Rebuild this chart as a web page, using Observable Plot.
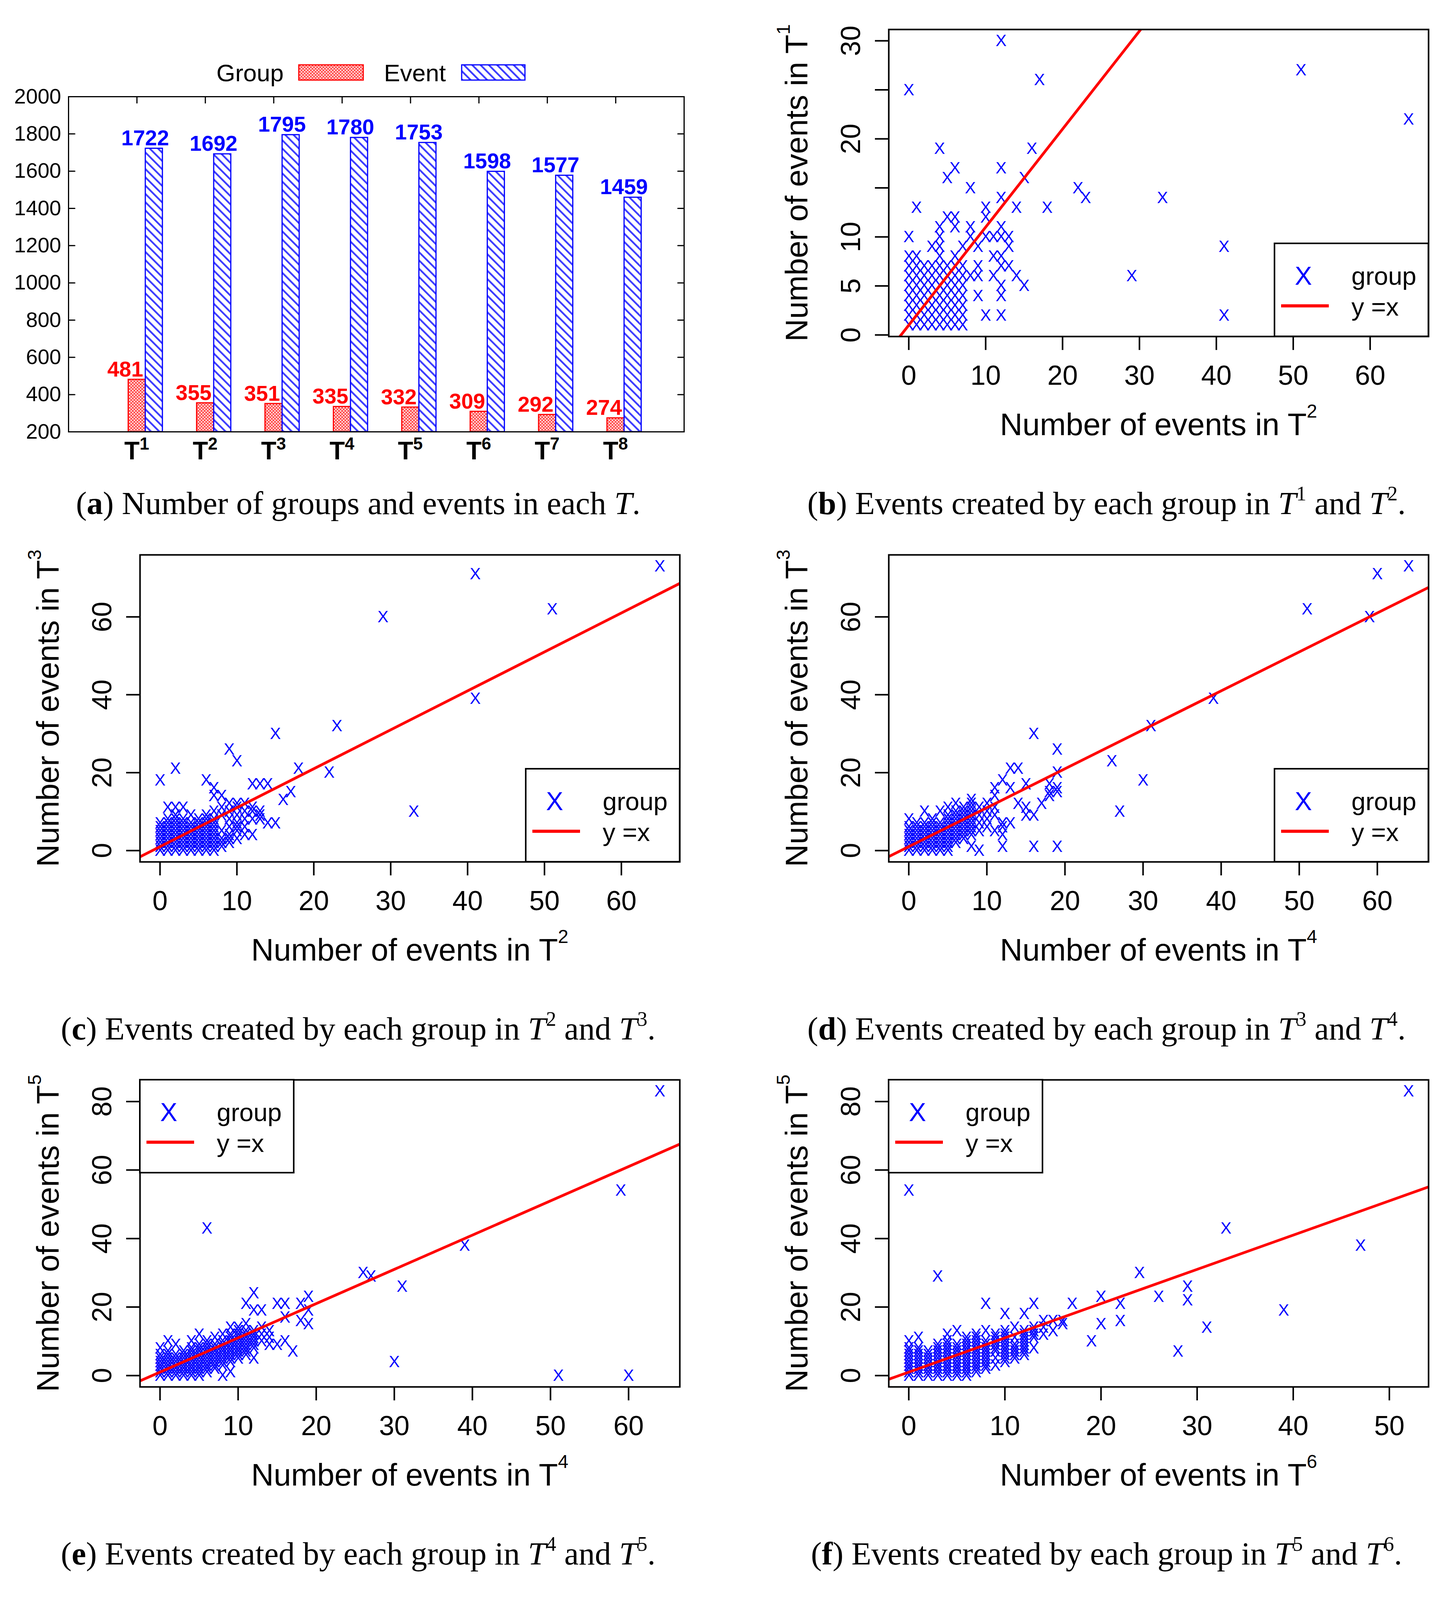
<!DOCTYPE html>
<html><head><meta charset="utf-8">
<script src="https://cdn.jsdelivr.net/npm/d3@7"></script>
<script src="https://cdn.jsdelivr.net/npm/@observablehq/plot@0.6"></script>
<style>
html,body{margin:0;padding:0;background:#fff;}
#page{position:relative;width:3697px;height:5414px;background:#fff;overflow:hidden;}
.cell{position:absolute;}
.cell svg{display:block;overflow:visible;max-width:none;}
</style></head><body>
<svg width="0" height="0" style="position:absolute">
 <defs>
  <pattern id="hatchBlue" patternUnits="userSpaceOnUse" width="15" height="15" patternTransform="rotate(-45)">
    <rect width="15" height="15" fill="#fff"/>
    <rect x="0" y="0" width="4.5" height="15" fill="#3a3aff"/>
  </pattern>
  <pattern id="hatchRed" patternUnits="userSpaceOnUse" width="8" height="8">
    <rect width="8" height="8" fill="#ffdede"/>
    <path d="M0,0L8,8M8,0L0,8" stroke="#ff2020" stroke-width="1.4"/>
  </pattern>
 </defs>
</svg>
<div id="page"></div>
<script>
// ---------- data: panel (a) ----------
const periods = ["1","2","3","4","5","6","7","8"];
const groupCounts = [481,355,351,335,332,309,292,274];
const eventCounts = [1722,1692,1795,1780,1753,1598,1577,1459];
const yTicksA = [200,400,600,800,1000,1200,1400,1600,1800,2000];

// ---------- data: scatter panels (x, y) ----------
const outliersB = [[12,30],[0,25],[17,26],[51,27],[65,22],[4,19],[16,19],[6,17],[5,16],[12,17],[15,16],[8,15],[22,15],[23,14],[33,14],[1,13],[12,14],[14,13],[18,13],[10,13],[10,12],[5,12],[6,12],[6,11],[12,11],[4,11],[8,11],[8,10],[0,10],[4,10],[10,10],[11,10],[12,10],[13,10],[13,9],[3,9],[4,9],[9,9],[7,9],[41,9],[29,6],[11,8],[12,8],[9,7],[12,7],[13,7],[11,6],[14,6],[9,6],[8,6],[15,5],[12,5],[9,4],[12,4],[10,2],[12,2],[41,2]];
const clusterB = [[0,[1,2,3,4,5,6,7,8]],[1,[1,2,3,4,5,6,7,8]],[2,[1,2,3,4,5,6,7]],[3,[1,2,3,4,5,6,7]],[4,[1,2,3,4,5,6,7,8]],[5,[1,2,3,4,5,6,7]],[6,[1,2,3,4,5,6,7,8]],[7,[1,2,3,4,5,6,7]]];

const outliersC = [[65,73],[41,71],[29,60],[51,62],[41,39],[23,32],[15,30],[9,26],[10,23],[2,21],[0,18],[18,21],[22,20],[33,10],[6,18],[7,16],[7,14],[8,14],[12,17],[13,17],[14,17],[17,15],[16,13],[14,7],[15,7],[9,12],[10,12],[11,12],[10,11],[11,10],[12,10],[12,11],[13,10],[13,9],[12,8],[13,8],[11,4],[12,4],[8,2],[9,2],[9,3],[10,6],[11,6],[1,11],[2,11],[3,11]];
const clusterC = [[0,[0,1,2,3,4,5,6,7]],[1,[0,1,2,3,4,5,6,7,8]],[2,[0,1,2,3,4,5,6,7,8,9]],[3,[0,1,2,3,4,5,6,7,8]],[4,[0,1,2,3,4,5,6,7,9]],[5,[0,1,2,3,4,5,6,7,8]],[6,[0,1,2,3,4,5,6,7,8,9]],[7,[0,1,2,3,4,5,6,7,8,10]],[8,[1,3,5,9,11]],[9,[4,6,8,10]],[10,[3,5,7,9]],[11,[8]]];

const outliersD = [[64,73],[60,71],[51,62],[59,60],[39,39],[31,32],[16,30],[19,26],[26,23],[30,18],[27,10],[13,21],[14,21],[19,20],[12,18],[13,16],[15,17],[18,17],[19,16],[18,15],[19,15],[17,12],[18,14],[11,16],[11,14],[8,13],[16,9],[15,9],[15,11],[12,7],[13,7],[12,6],[12,4],[12,1],[16,1],[19,1],[9,0]];
const clusterD = [[0,[0,1,2,3,4,5,6,8]],[1,[0,1,2,3,4,5,6,7]],[2,[0,1,2,3,4,5,6,7,10]],[3,[0,1,2,3,4,5,6,7,8]],[4,[0,1,2,3,4,5,6,7,10]],[5,[0,1,2,3,4,5,6,7,8,9,11]],[6,[2,3,4,5,6,7,8,9,10,12]],[7,[3,4,5,6,7,8,9,10,11]],[8,[1,4,5,6,7,8,9,10,11,12]],[9,[5,7,9,11]],[10,[6,8,10,12]],[11,[5,9,11]],[14,[12]]];

const outliersE = [[64,83],[59,54],[6,43],[39,38],[26,30],[27,29],[31,26],[30,4],[51,0],[60,0],[12,24],[11,21],[15,21],[16,21],[18,21],[19,23],[12,19],[13,19],[19,19],[16,17],[18,16],[19,15],[14,13],[15,9],[16,10],[17,7],[8,0],[9,1],[12,5]];
const clusterE = [[0,[0,1,2,3,4,5,6,8]],[1,[0,1,2,3,4,5,6,7,10]],[2,[0,1,2,3,4,5,6,9]],[3,[0,1,2,3,4,5,6,7]],[4,[0,1,2,3,4,5,6,7,8,10]],[5,[0,1,2,3,4,5,6,7,8,9,12]],[6,[1,2,3,4,5,6,7,8,9,10]],[7,[2,3,4,5,6,7,8,9,11]],[8,[3,4,5,6,7,8,9,10,12]],[9,[4,5,6,7,8,9,10,11,12,14]],[10,[5,6,7,8,9,10,11,12,13,14]],[11,[6,7,8,9,10,11,12,13,15]],[12,[8,9,10,11,12,13]],[13,[10,12,14]],[14,[9,11]]];

const outliersF = [[52,83],[0,54],[33,43],[47,38],[3,29],[24,30],[26,23],[29,26],[29,22],[39,19],[31,14],[28,7],[19,10],[20,15],[22,16],[20,23],[22,21],[17,21],[13,21],[8,21],[10,18],[12,18],[15,16],[16,16],[14,14]];
const clusterF = [[0,[0,1,2,3,4,5,6,7,8,10]],[1,[0,1,2,3,4,5,6,7,8,11]],[2,[0,1,2,3,4,5,6,7]],[3,[0,1,2,3,4,5,6,7,8,9]],[4,[0,1,2,3,4,5,6,7,8,9,10,12]],[5,[0,1,2,3,4,5,6,7,8,9,13]],[6,[0,1,2,3,4,5,6,7,8,9,10,11]],[7,[1,2,3,4,5,6,7,8,9,10,11,12]],[8,[2,3,4,5,6,7,8,9,10,13]],[9,[3,5,7,8,9,10,11,12]],[10,[4,5,6,7,8,9,10,11,12,13]],[11,[5,6,7,8,9,11,14]],[12,[6,7,8,9,10,11,12,13]],[13,[8,11,12,13,14]],[14,[12,16]],[15,[13]],[16,[15]]];

const outliersG = [[47,48],[52,32],[15,35],[24,32],[17,28],[33,29],[39,28],[31,26],[28,25],[26,22],[11,24],[20,24],[12,19],[22,18],[19,16],[20,14],[29,15],[29,13],[22,9],[16,4],[13,5],[17,14],[16,13],[14,13],[10,16],[10,15],[2,14],[0,12],[8,14],[5,13],[7,13],[9,13],[4,10],[6,10],[8,0],[9,0],[12,8]];
const clusterG = [[0,[0,1,2,3,4,5,6,7,9]],[1,[0,1,2,3,4,5,6,7,8]],[2,[0,1,2,3,4,5,6,7,9]],[3,[0,1,2,3,4,5,6,8]],[4,[0,1,2,3,4,5,6,7,8,9,11,12]],[5,[0,1,2,3,4,5,6,7,8]],[6,[0,1,2,3,4,5,6,7,8,9,11]],[7,[0,1,2,3,4,5,6,7,8,10,12]],[8,[2,4,5,6,7,8,9,11]],[9,[3,7,8,9,10]],[10,[5,7,9,11,12,13]],[11,[6,10,12,13]],[12,[9,11,12]]];

const outliersH = [[48,48],[45,29],[33,35],[32,32],[5,32],[0,28],[26,28],[24,26],[27,24],[31,24],[11,25],[18,22],[17,19],[19,18],[0,15],[1,13],[22,13],[35,12],[4,11],[13,16],[14,16],[15,14],[16,13],[17,14],[14,10],[14,5],[19,4],[12,1],[7,13],[8,13],[9,13],[10,14],[11,14],[12,14],[11,12],[12,11],[13,12],[9,9],[11,7],[12,7],[8,5]];
const clusterH = [[0,[0,1,2,3,4,5,6,8,10]],[1,[0,1,2,3,4,5,7,9]],[2,[0,1,2,3,4,5,6,7,8,10]],[3,[0,1,2,3,4,5,6,7,9,10]],[4,[0,1,2,3,4,5,6,7,8,10]],[5,[0,1,2,3,4,5,6,7,8,9]],[6,[0,1,2,3,4,5,6,7,8,10]],[7,[3,5,6,7,8,9,10]],[8,[7,8,9,10,12]],[9,[8,10,11,12]],[10,[9,10,11,12,13]],[11,[10,11]],[12,[8,9,10,12]],[13,[10,11,13,15]]];

// reference line as drawn in the picture (sits about one unit above the diagonal)
const refLineIntercept = 1;

// tick values
const ticks60 = [0,10,20,30,40,50,60];
const ticks50 = [0,10,20,30,40,50];
const ticks40 = [0,10,20,30,40];
const yTicksB = [0,5,10,15,20,25,30];
const yLabelsB = [0,5,10,20,30];
const ticksY60 = [0,20,40,60];
const ticksY80 = [0,20,40,60,80];

// ---------- layout ----------
const SANS = "'Liberation Sans', Arial, Helvetica, sans-serif";
const SERIF = "'Liberation Serif', 'Times New Roman', serif";
const W0 = 1849, W1 = 1848, H = 1344;
const rowTop = [0, 1345, 2689, 4034];
const colLeft = [0, 1849];
const capX = [917, 984];
const capY = 1316;
const page = document.getElementById("page");

function place(row, col, node) {
  const div = document.createElement("div");
  div.className = "cell";
  div.style.left = colLeft[col] + "px";
  div.style.top = rowTop[row] + "px";
  div.appendChild(node);
  page.appendChild(div);
}

function richText(g, parts, {x = 0, y = 0, size, family = SANS, anchor = "middle", transform, fill = "#000", weight}) {
  const t = g.append("text").attr("x", x).attr("y", y).attr("text-anchor", anchor)
    .attr("font-family", family).attr("font-size", size).attr("fill", fill);
  if (transform) t.attr("transform", transform);
  if (weight) t.attr("font-weight", weight);
  let shift = 0;
  for (const p of parts) {
    const s = t.append("tspan").text(p.t);
    const target = -(p.raise || 0);
    if (target !== shift) { s.attr("dy", target - shift); shift = target; }
    if (p.size) s.attr("font-size", p.size);
    if (p.bold) s.attr("font-weight", "bold");
    if (p.italic) s.attr("font-style", "italic");
  }
  return t;
}

function caption(svg, col, letter, a, b) {
  const parts = [{t: "("}, {t: letter, bold: true}];
  if (a == null) {
    parts.push({t: ") Number of groups and events in each "}, {t: "T", italic: true}, {t: "."});
  } else {
    parts.push({t: ") Events created by each group in "}, {t: "T", italic: true}, {t: String(a), size: 52, raise: 35},
      {t: " and "}, {t: "T", italic: true}, {t: String(b), size: 52, raise: 35}, {t: "."});
  }
  richText(svg, parts, {x: capX[col], y: capY, size: 83, family: SERIF});
}

const tickShape = {draw(context, l) { context.moveTo(0, 0); context.lineTo(0, -l); }};

// ---------- panel (a) ----------
function barPanel() {
  const rows = periods.map((p, i) => ({k: i + 1, p, group: groupCounts[i], event: eventCounts[i]}));
  const ml = 175, mr = 98, mt = 247, mb = H - 1105;
  const plot = Plot.plot({
    width: W0, height: H, marginLeft: ml, marginRight: mr, marginTop: mt, marginBottom: mb,
    style: {fontFamily: SANS, fontSize: "53px", background: "#fff", overflow: "visible"},
    x: {domain: [0, periods.length + 1], label: null, axis: null},
    y: {domain: [200, 2000], label: null},
    marks: [
      Plot.rect(rows, {x1: d => d.k - 0.125, x2: d => d.k + 0.125, y1: 200, y2: "group", fill: "url(#hatchRed)", stroke: "#ff0000", strokeWidth: 3}),
      Plot.rect(rows, {x1: d => d.k + 0.125, x2: d => d.k + 0.375, y1: 200, y2: "event", fill: "url(#hatchBlue)", stroke: "#0000ff", strokeWidth: 3}),
      Plot.text(rows, {x: "k", y: "group", text: d => String(d.group), dx: -30, dy: -8, lineAnchor: "bottom", fill: "#ff0000", fontWeight: "bold", fontSize: 55}),
      Plot.text(rows, {x: "k", y: "event", text: d => String(d.event), dx: 21, dy: -8, lineAnchor: "bottom", fill: "#0000ff", fontWeight: "bold", fontSize: 55}),
      Plot.axisY(yTicksA, {tickSize: 0, tickPadding: 19, fontSize: 54, tickFormat: d => String(d), label: null}),
      Plot.vector(yTicksA, {y: d => d, frameAnchor: "left", rotate: 90, length: 16, anchor: "start", shape: tickShape, stroke: "#000", strokeWidth: 3}),
      Plot.vector(yTicksA, {y: d => d, frameAnchor: "right", rotate: -90, length: 16, anchor: "start", shape: tickShape, stroke: "#000", strokeWidth: 3}),
      Plot.vector(rows, {x: "k", frameAnchor: "top", rotate: 180, length: 16, anchor: "start", shape: tickShape, stroke: "#000", strokeWidth: 3}),
      Plot.frame({stroke: "#000", strokeWidth: 3})
    ]
  });
  const svg = d3.select(plot);
  const xs = plot.scale("x");
  rows.forEach(r => {
    richText(svg, [{t: "T"}, {t: r.p, size: 44, raise: 25}], {x: xs.apply(r.k), y: 1176, size: 64, weight: "bold"});
  });
  // legend
  const lg = svg.append("g").attr("font-family", SANS).attr("text-anchor", "start");
  lg.append("text").attr("x", 554).attr("y", 208).attr("font-size", 62).text("Group");
  lg.append("rect").attr("x", 765).attr("y", 166).attr("width", 165).attr("height", 39).attr("fill", "url(#hatchRed)").attr("stroke", "#ff0000").attr("stroke-width", 3);
  lg.append("text").attr("x", 983).attr("y", 208).attr("font-size", 62).text("Event");
  lg.append("rect").attr("x", 1182).attr("y", 166).attr("width", 162).attr("height", 39).attr("fill", "url(#hatchBlue)").attr("stroke", "#0000ff").attr("stroke-width", 3);
  caption(svg, 0, "a");
  return plot;
}

// ---------- scatter panels ----------
function scatter(cfg) {
  const pts = [...cfg.outliers, ...cfg.cluster.flatMap(([x, ys]) => ys.map(y => [x, y]))].map(([x, y]) => ({x, y}));
  const ext = k => { const [a, b] = d3.extent(pts, d => d[k]); const r = b - a; return [a - 0.04 * r, b + 0.04 * r]; };
  const xd = ext("x"), yd = ext("y");
  const col = cfg.col;
  const W = col ? W1 : W0;
  const ml = col ? 426 : 358, mr = col ? 40 : 109, mt = 75, fh = 786, mb = H - mt - fh;
  const plot = Plot.plot({
    width: W, height: H, marginLeft: ml, marginRight: mr, marginTop: mt, marginBottom: mb,
    style: {fontFamily: SANS, fontSize: "70px", background: "#fff", overflow: "visible"},
    x: {domain: xd, label: null}, y: {domain: yd, label: null},
    marks: [
      Plot.text(pts, {x: "x", y: "y", text: () => "X", fill: "#0000ff", fontSize: 42}),
      Plot.line(xd.map(v => ({v})), {x: "v", y: d => d.v + refLineIntercept, stroke: "#ff0000", strokeWidth: 7, clip: true}),
      Plot.axisX(cfg.xTicks, {tickSize: 35, tickPadding: 39, strokeWidth: 4, fontSize: 70, label: null}),
      Plot.axisY(cfg.yTicks, {tickSize: 35, strokeWidth: 4, tickFormat: () => "", label: null}),
      Plot.text(cfg.yLabels, {y: d => d, frameAnchor: "left", dx: -74, rotate: -90, textAnchor: "middle", lineAnchor: "bottom", fontSize: 70}),
      Plot.frame({stroke: "#000", strokeWidth: 4})
    ]
  });
  const svg = d3.select(plot);
  // legend
  const bw = 394, bh = 238;
  const bx = cfg.legend === "tl" ? ml : W - mr - bw;
  const by = cfg.legend === "tl" ? mt : mt + fh - bh;
  const g = svg.append("g").attr("transform", `translate(${bx},${by})`).attr("font-family", SANS);
  g.append("rect").attr("width", bw).attr("height", bh).attr("fill", "#fff").attr("stroke", "#000").attr("stroke-width", 4);
  g.append("text").attr("x", 74).attr("y", 83).attr("dy", "0.35em").attr("text-anchor", "middle").attr("fill", "#0000ff").attr("font-size", 66).text("X");
  g.append("line").attr("x1", 17).attr("x2", 139).attr("y1", 160).attr("y2", 160).attr("stroke", "#ff0000").attr("stroke-width", 8);
  g.append("text").attr("x", 197).attr("y", 106).attr("text-anchor", "start").attr("font-size", 65).text("group");
  g.append("text").attr("x", 197).attr("y", 185).attr("text-anchor", "start").attr("font-size", 65).text("y =x");
  // axis titles
  richText(svg, [{t: "Number of events in T"}, {t: String(cfg.xSup), size: 48, raise: 45}],
    {x: ml + (W - ml - mr) / 2, y: mt + fh + 253, size: 80});
  richText(svg, [{t: "Number of events in T"}, {t: String(cfg.ySup), size: 48, raise: 45}],
    {size: 80, transform: `translate(${ml - 208},${mt + fh / 2}) rotate(-90)`});
  caption(svg, col, cfg.letter, cfg.capA, cfg.capB);
  return plot;
}

place(0, 0, barPanel());
const panels = [
  {row: 0, col: 1, letter: "b", outliers: outliersB, cluster: clusterB, xTicks: ticks60, yTicks: yTicksB, yLabels: yLabelsB, xSup: 2, ySup: 1, legend: "br", capA: 1, capB: 2},
  {row: 1, col: 0, letter: "c", outliers: outliersC, cluster: clusterC, xTicks: ticks60, yTicks: ticksY60, yLabels: ticksY60, xSup: 2, ySup: 3, legend: "br", capA: 2, capB: 3},
  {row: 1, col: 1, letter: "d", outliers: outliersD, cluster: clusterD, xTicks: ticks60, yTicks: ticksY60, yLabels: ticksY60, xSup: 4, ySup: 3, legend: "br", capA: 3, capB: 4},
  {row: 2, col: 0, letter: "e", outliers: outliersE, cluster: clusterE, xTicks: ticks60, yTicks: ticksY80, yLabels: ticksY80, xSup: 4, ySup: 5, legend: "tl", capA: 4, capB: 5},
  {row: 2, col: 1, letter: "f", outliers: outliersF, cluster: clusterF, xTicks: ticks50, yTicks: ticksY80, yLabels: ticksY80, xSup: 6, ySup: 5, legend: "tl", capA: 5, capB: 6},
  {row: 3, col: 0, letter: "g", outliers: outliersG, cluster: clusterG, xTicks: ticks50, yTicks: ticks40, yLabels: ticks40, xSup: 6, ySup: 7, legend: "br", capA: 6, capB: 7},
  {row: 3, col: 1, letter: "h", outliers: outliersH, cluster: clusterH, xTicks: ticks40, yTicks: ticks40, yLabels: ticks40, xSup: 8, ySup: 7, legend: "br", capA: 7, capB: 8}
];
for (const p of panels) place(p.row, p.col, scatter(p));
</script>
</body></html>
